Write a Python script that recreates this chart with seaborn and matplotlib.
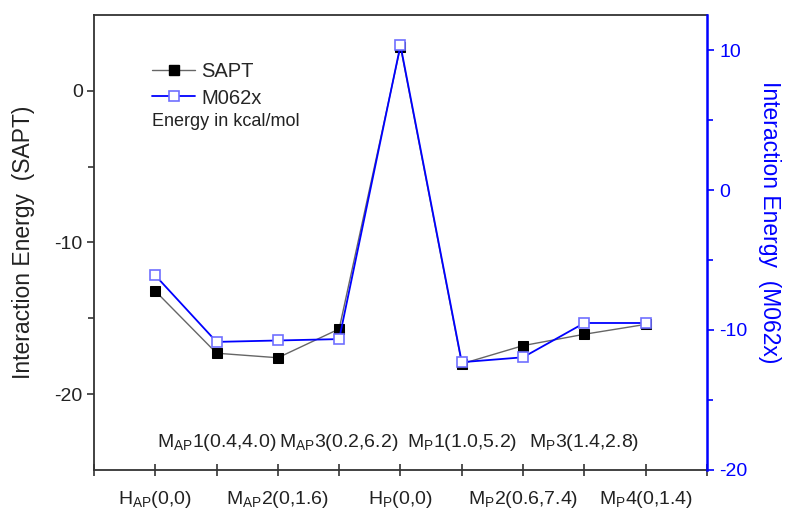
import numpy as np
import pandas as pd
import matplotlib
matplotlib.use("Agg")
import matplotlib.pyplot as plt
import seaborn as sns
from matplotlib.lines import Line2D
from matplotlib.transforms import blended_transform_factory

# Structures along the path (position index on the x axis)
structures = [
    r"H$_{\mathrm{AP}}$(0,0)",
    r"M$_{\mathrm{AP}}$1(0.4,4.0)",
    r"M$_{\mathrm{AP}}$2(0,1.6)",
    r"M$_{\mathrm{AP}}$3(0.2,6.2)",
    r"H$_{\mathrm{P}}$(0,0)",
    r"M$_{\mathrm{P}}$1(1.0,5.2)",
    r"M$_{\mathrm{P}}$2(0.6,7.4)",
    r"M$_{\mathrm{P}}$3(1.4,2.8)",
    r"M$_{\mathrm{P}}$4(0,1.4)",
]
position = np.arange(1, len(structures) + 1)

# Interaction energies, kcal/mol
sapt = [-13.2, -17.3, -17.6, -15.7, 2.9, -18.0, -16.8, -16.05, -15.4]
m062x = [-6.1, -10.85, -10.75, -10.65, 10.35, -12.3, -11.95, -9.5, -9.5]

df = pd.DataFrame({"pos": position, "SAPT": sapt, "M062x": m062x})

sns.set_style("ticks")
plt.rcParams["font.family"] = ["Liberation Sans", "DejaVu Sans"]
plt.rcParams["mathtext.fontset"] = "custom"
plt.rcParams["mathtext.rm"] = "Liberation Sans"
plt.rcParams["mathtext.it"] = "Liberation Sans:italic"
plt.rcParams["mathtext.bf"] = "Liberation Sans:bold"
plt.rcParams["axes.unicode_minus"] = False

fig = plt.figure(figsize=(7.87, 5.25), dpi=100)
ax = fig.add_axes([0.1194, 0.1048, 0.7789, 0.8666])

frame = "#333333"
blue = "#0000ff"
text_c = "#222222"

sns.lineplot(data=df, x="pos", y="SAPT", ax=ax, color="#666666", lw=1.0,
             marker="s", markersize=7.5, markerfacecolor="black",
             markeredgecolor="black", legend=False)
ax.set_xlim(0, 10)
ax.set_ylim(-25, 5)

ax2 = ax.twinx()
sns.lineplot(data=df, x="pos", y="M062x", ax=ax2, color=blue, lw=1.3,
             marker="s", markersize=7.5, markerfacecolor="white",
             markeredgecolor="#6f6fff", markeredgewidth=1.2, legend=False)
ax2.set_ylim(-20, 12.5)
ax2.set_xlim(0, 10)

# Left axis
ax.set_yticks([0, -10, -20])
ax.set_yticks([-5, -15], minor=True)
ax.tick_params(axis="y", which="major", direction="out", length=5, width=1.2,
               colors=frame, labelsize=14, labelcolor=text_c, pad=3)
ax.tick_params(axis="y", which="minor", direction="out", length=4, width=1.2,
               colors=frame)
ax.set_ylabel("Interaction Energy  (SAPT)", fontsize=16.5, color=text_c)
ax.yaxis.set_label_coords(-0.097, 0.5)

# Bottom axis: odd positions labelled below, even positions above
ax.set_xticks(np.arange(0, 11))
ax.set_xticklabels([structures[i - 1] if (1 <= i <= 9 and i % 2 == 1) else ""
                    for i in range(0, 11)])
ax.tick_params(axis="x", direction="inout", length=9, width=1.2,
               colors=frame, labelsize=14, labelcolor=text_c, pad=9)
ax.set_xlabel("")
trans = blended_transform_factory(ax.transData, ax.transAxes)
for p, name in zip(position, structures):
    if p % 2 == 0:
        ax.annotate(name, xy=(p, 0), xycoords=trans, xytext=(0, 12),
                    textcoords="offset points", ha="center", va="bottom",
                    fontsize=14, color=text_c)

for side in ["left", "top", "bottom"]:
    ax.spines[side].set_color(frame)
    ax.spines[side].set_linewidth(1.3)
ax.spines["right"].set_visible(False)

# Right axis
ax2.set_yticks([-20, -10, 0, 10])
ax2.set_yticks([-15, -5, 5], minor=True)
ax2.tick_params(axis="y", which="major", direction="out", length=5, width=1.2,
                colors=blue, labelsize=14, pad=4)
ax2.tick_params(axis="y", which="minor", direction="out", length=4, width=1.2,
                colors=blue)
ax2.set_ylabel("Interaction Energy  (M062x)", fontsize=16.5, color=blue,
               rotation=270)
ax2.yaxis.set_label_coords(1.12, 0.545)
ax2.spines["right"].set_color(blue)
ax2.spines["right"].set_linewidth(1.8)
for side in ["left", "top", "bottom"]:
    ax2.spines[side].set_visible(False)

# Legend
handles = [
    Line2D([], [], color="#666666", lw=1.0, marker="s", markersize=7.5,
           markerfacecolor="black", markeredgecolor="black"),
    Line2D([], [], color=blue, lw=1.3, marker="s", markersize=7.5,
           markerfacecolor="white", markeredgecolor="#6f6fff",
           markeredgewidth=1.2),
]
ax2.legend(handles, ["SAPT", "M062x"], loc="upper left",
           bbox_to_anchor=(0.0946, 0.897), frameon=False, fontsize=14.5,
           handlelength=2.15, handletextpad=0.3, labelspacing=0.38,
           borderaxespad=0, borderpad=0)
ax2.text(0.094, 0.765, "Energy in kcal/mol", transform=ax2.transAxes,
         fontsize=13, color=text_c, va="center", ha="left")

fig.savefig("out.png", dpi=100)
